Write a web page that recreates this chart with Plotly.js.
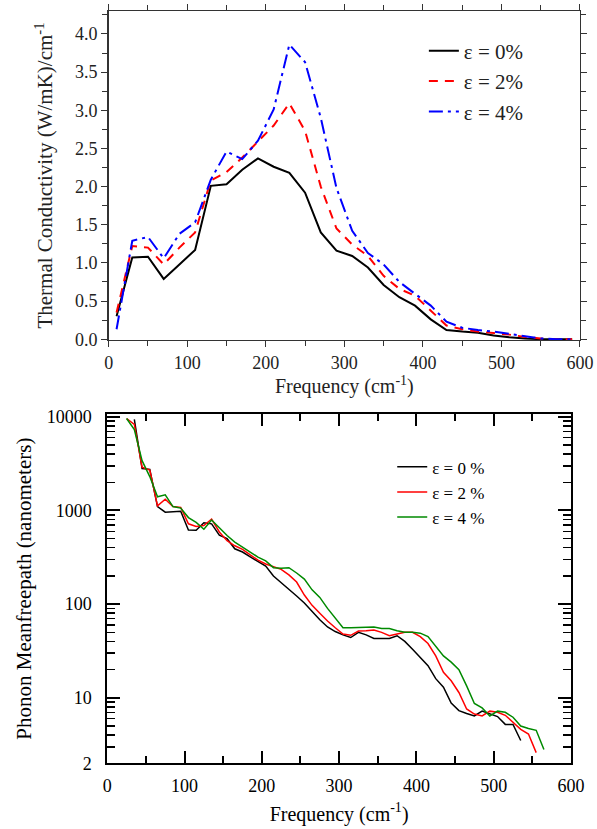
<!DOCTYPE html>
<html>
<head>
<meta charset="utf-8">
<script src="https://cdn.plot.ly/plotly-3.0.1.min.js"></script>
<style>html,body{margin:0;padding:0;background:#fff;}#chart{width:597px;height:829px;}</style>
</head>
<body>
<div id="chart"></div>
<script>
// ---- Top panel: thermal conductivity spectrum ----
const freqK = [10,30,50,70,90,110,130,150,170,190,210,230,250,270,290,310,330,350,370,390,410,430,450,470,490,510,530,550,570,590];
const kappa0 = [0.30,1.07,1.08,0.79,0.98,1.17,2.01,2.03,2.22,2.37,2.26,2.18,1.92,1.40,1.16,1.09,0.94,0.71,0.55,0.44,0.26,0.12,0.10,0.085,0.05,0.025,0.01,0.0,0.0,0.0];
const kappa2 = [0.35,1.22,1.20,0.98,1.20,1.40,2.08,2.19,2.38,2.59,2.80,3.09,2.73,2.00,1.45,1.24,1.09,0.83,0.66,0.57,0.37,0.18,0.13,0.10,0.08,0.06,0.03,0.01,0.0,0.0];
const kappa4 = [0.13,1.29,1.34,1.06,1.38,1.53,2.09,2.46,2.36,2.60,3.01,3.86,3.63,2.90,1.98,1.42,1.13,0.98,0.75,0.59,0.44,0.23,0.15,0.12,0.10,0.07,0.04,0.01,0.0,0.0];
const namesK = ['ε = 0%','ε = 2%','ε = 4%'];

// ---- Bottom panel: phonon mean free path ----
const freqM0 = [35,45,55,65,75,85,95,105,115,125,135,145,155,165,175,185,195,205,215,225,235,245,255,265,275,285,295,305,315,325,335,345,355,365,375,385,395,405,415,425,435,445,455,465,475,485,495,505,515,525,535];
const mfp0 = [9400,2800,2750,1100,960,970,980,620,615,740,720,545,500,390,360,320,285,255,200,170,147,122,103,83,68,57,51,47,44,50,47,43,43,43,46,40,33,27,22,16,13,8.8,7.3,6.8,6.4,7.2,6.8,6.3,5.2,5.2,3.5];
const freqM2 = [25,35,45,55,65,75,85,95,105,115,125,135,145,155,165,175,185,195,205,215,225,235,245,255,265,275,285,295,305,315,325,335,345,355,365,375,385,395,405,415,425,435,445,455,465,475,485,495,505,515,525,535,545,555];
const mfp2 = [9600,8300,2900,2700,1120,1320,1100,1080,720,675,690,810,590,475,420,385,335,295,268,250,235,205,172,125,97,80,66,56,48,46.5,51.6,52,53,50,46,48,50,50,45,38,28,18.7,15.2,11.4,7.6,6.7,6.4,7.2,7.0,6.5,5.4,4.6,4.1,2.6];
const freqM4 = [25,35,45,55,65,75,85,95,105,115,125,135,145,155,165,175,185,195,205,215,225,235,245,255,265,275,285,295,305,315,325,335,345,355,365,375,385,395,405,415,425,435,445,455,465,475,485,495,505,515,525,535,545,555,565];
const mfp4 = [9600,7300,3400,2300,1400,1470,1100,1060,840,745,630,790,655,540,460,405,355,318,290,245,242,245,215,185,142,118,90,70,56,56,56,56,57,55,55,52,50,50,49,45,36,28,24,20,13.4,8.7,7.8,6.4,7.2,7.0,6.2,5.0,4.7,4.5,2.8];
const namesM = ['ε = 0 %','ε = 2 %','ε = 4 %'];
const mfpTickVals = [2,10,100,1000,10000];
const mfpTickText = ['2','10','100','1000','10000'];
const mfpMinorVals = [3,4,5,6,7,8,9,20,30,40,50,60,70,80,90,200,300,400,500,600,700,800,900,2000,3000,4000,5000,6000,7000,8000,9000];

const FONT = "'Liberation Serif', 'Times New Roman', serif";

const traces = [
  {x:freqK, y:kappa0, name:namesK[0], type:'scatter', mode:'lines', xaxis:'x', yaxis:'y', legend:'legend',
   line:{color:'#000000', width:2}},
  {x:freqK, y:kappa2, name:namesK[1], type:'scatter', mode:'lines', xaxis:'x', yaxis:'y', legend:'legend',
   line:{color:'#ff0000', width:2, dash:'9px,7px'}},
  {x:freqK, y:kappa4, name:namesK[2], type:'scatter', mode:'lines', xaxis:'x', yaxis:'y', legend:'legend',
   line:{color:'#0000ff', width:2, dash:'14px,5px,3px,5px'}},
  {x:freqM0, y:mfp0, name:namesM[0], type:'scatter', mode:'lines', xaxis:'x2', yaxis:'y2', legend:'legend2',
   line:{color:'#000000', width:1.5}},
  {x:freqM2, y:mfp2, name:namesM[1], type:'scatter', mode:'lines', xaxis:'x2', yaxis:'y2', legend:'legend2',
   line:{color:'#ff0000', width:1.5}},
  {x:freqM4, y:mfp4, name:namesM[2], type:'scatter', mode:'lines', xaxis:'x2', yaxis:'y2', legend:'legend2',
   line:{color:'#008a00', width:1.5}}
];

const topAxisCommon = {
  showline:true, linecolor:'#333', linewidth:1.5, mirror:'ticks', showgrid:false, zeroline:false,
  ticks:'outside', ticklen:6, tickwidth:1, tickcolor:'#333',
  tickfont:{family:FONT, size:18, color:'#222'}, automargin:false
};
const botAxisCommon = {
  showline:true, linecolor:'#000', linewidth:2, mirror:'ticks', showgrid:false, zeroline:false,
  ticks:'inside', tickwidth:2, tickcolor:'#000',
  tickfont:{family:FONT, size:18, color:'#000'}, automargin:false
};

const layout = {
  width:597, height:829,
  margin:{l:0, r:0, t:0, b:0},
  paper_bgcolor:'#ffffff', plot_bgcolor:'#ffffff',
  font:{family:FONT, color:'#000'},
  showlegend:true,
  xaxis: Object.assign({}, topAxisCommon, {
    domain:[0.1821, 0.9715], anchor:'y', range:[0,600], tick0:0, dtick:100,
    minor:{dtick:50, ticks:'outside', ticklen:5, tickwidth:1, tickcolor:'#333'},
    title:{text:'Frequency (cm<sup>-1</sup>)', font:{family:FONT, size:20, color:'#222'}, standoff:3}
  }),
  yaxis: Object.assign({}, topAxisCommon, {
    domain:[0.5899, 0.9867], anchor:'x', range:[-0.01, 4.3], tick0:0, dtick:0.5, tickformat:'.1f',
    minor:{dtick:0.25, ticks:'outside', ticklen:5, tickwidth:1, tickcolor:'#333'},
    title:{text:'Thermal Conductivity (W/mK)/cm<sup>-1</sup>', font:{family:FONT, size:21, color:'#222'}, standoff:16}
  }),
  xaxis2: Object.assign({}, botAxisCommon, {
    domain:[0.1797, 0.9564], anchor:'y2', range:[0,600], tick0:0, dtick:100, ticklen:12, ticklabelstandoff:5,
    minor:{dtick:50, ticks:'inside', ticklen:7, tickwidth:2, tickcolor:'#000'},
    title:{text:'Frequency (cm<sup>-1</sup>)', font:{family:FONT, size:20, color:'#000'}, standoff:12}
  }),
  yaxis2: Object.assign({}, botAxisCommon, {
    type:'log', domain:[0.0793, 0.5006], anchor:'x2', range:[Math.log10(2), 4.03],
    tickmode:'array', tickvals:mfpTickVals, ticktext:mfpTickText, ticklen:13, ticklabelstandoff:10,
    minor:{tickmode:'array', tickvals:mfpMinorVals, ticks:'inside', ticklen:8, tickwidth:1.5, tickcolor:'#000'},
    title:{text:'Phonon Meanfreepath (nanometers)', font:{family:FONT, size:21, color:'#000'}, standoff:9}
  }),
  legend:{x:0.71, y:0.963, xanchor:'left', yanchor:'top', bgcolor:'rgba(0,0,0,0)', borderwidth:0,
          font:{family:FONT, size:21, color:'#222'}, tracegroupgap:0},
  legend2:{x:0.657, y:0.458, xanchor:'left', yanchor:'top', bgcolor:'rgba(0,0,0,0)', borderwidth:0,
          font:{family:FONT, size:17, color:'#000'}, tracegroupgap:0}
};

Plotly.newPlot('chart', traces, layout, {displayModeBar:false, staticPlot:true});
</script>
</body>
</html>
